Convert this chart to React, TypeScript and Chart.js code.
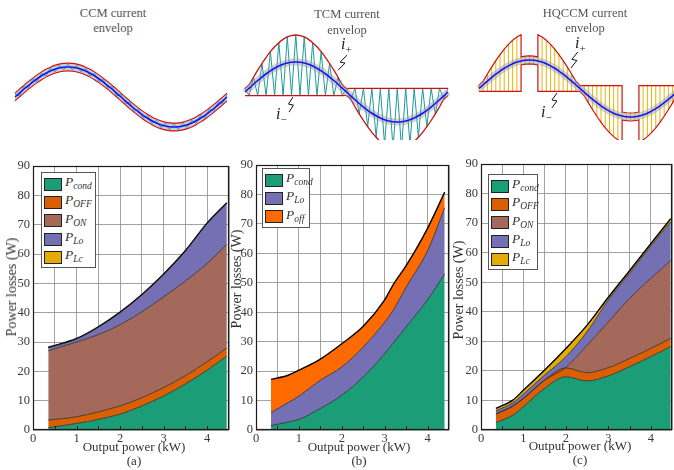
import React, { useEffect, useRef } from 'react';
import { Chart, registerables } from 'chart.js';

Chart.register(...registerables);

const SERIF = '"Liberation Serif", "Times New Roman", "DejaVu Serif", serif';

// ---------------- Loss breakdown data (W), stacked bottom -> top ----------------
// (a) CCM
const X_A = [0.35, 1, 1.5, 2, 2.5, 3, 3.5, 4, 4.45];
const A_COND = [0.8, 2.2, 3.6, 5.4, 8.2, 11.6, 15.7, 20.4, 25.2];
const A_OFF = [2.6, 2.3, 2.6, 2.8, 2.8, 2.9, 2.8, 2.9, 2.8];
const A_ON = [23.6, 25.5, 26.3, 27.7, 29.3, 30.9, 32.3, 33.5, 35.3];
const A_LO = [1.0, 1.0, 2.5, 4.1, 5.7, 7.6, 10.2, 13.6, 14.0];
const A_LC = [0.2, 0.2, 0.2, 0.2, 0.2, 0.2, 0.2, 0.2, 0.2];

// (b) TCM
const X_B = [0.35, 0.75, 1, 1.5, 2, 2.5, 3, 3.2, 3.5, 4, 4.4];
const B_COND = [1.5, 2.7, 3.6, 7.3, 11.8, 18.0, 25.9, 29.5, 35.0, 44.2, 53.0];
const B_LO = [4.4, 6.6, 7.9, 9.6, 9.6, 10.2, 10.7, 11.2, 13.5, 16.7, 22.5];
const B_OFF = [11.3, 9.3, 8.8, 7.2, 7.9, 7.0, 7.6, 8.7, 7.3, 7.6, 5.3];

// (c) HQCCM
const X_C = [0.35, 0.75, 1, 1.5, 2, 2.5, 3, 3.5, 4, 4.47];
const C_COND = [2.5, 5.0, 7.9, 14.1, 18.0, 16.6, 18.3, 21.4, 24.8, 28.2];
const C_OFF = [2.9, 3.1, 2.8, 2.8, 3.0, 2.8, 2.8, 2.8, 2.8, 2.8];
const C_ON = [0, 0, 0, 0, 0.2, 9.3, 15.5, 20.3, 23.7, 26.3];
const C_LO = [1.1, 1.1, 1.5, 1.7, 3.6, 4.6, 7.4, 8.5, 10.9, 13.2];
const C_LC = [0.8, 0.9, 1.3, 1.7, 2.8, 2.2, 0.9, 0.9, 0.8, 1.0];

const Y_TICKS_STEP = 10;
const X_TICKS_STEP = 0.5;

const GREEN = '#1b9e77';
const ORANGE = '#d95f02';
const ORANGE_B = '#ff6a00';
const BROWN = '#a5695b';
const PURPLE = '#7570b3';
const YELLOW = '#e6ab02';

// ---------------- Schematic waveform table (7.5 degree steps) ----------------
const QUARTER_SINE = [0, 0.131, 0.259, 0.383, 0.5, 0.609, 0.707, 0.793, 0.866, 0.924, 0.966, 0.991, 1];
const STEP_DEG = 7.5;
const HALF_SINE = [...QUARTER_SINE, ...QUARTER_SINE.slice(0, -1).reverse()];
const PERIOD_SINE = [...HALF_SINE, ...HALF_SINE.slice(1).map((v) => -v)];
const HUMPS: [number, number][] = [[75, 105], [255, 285]];

const pts = (fn: (v: number, t: number, i: number) => number) =>
  PERIOD_SINE.map((v, i) => ({ x: i * STEP_DEG, y: fn(v, i * STEP_DEG, i) }));

const line = (data: any[], color: string, width: number, tension = 0.3) => ({
  data,
  borderColor: color,
  borderWidth: width,
  tension,
  pointRadius: 0,
  fill: false,
  spanGaps: false,
});

const boltPlugin = (bolts: number[][]) => ({
  id: 'bolts',
  afterDatasetsDraw(chart: any) {
    const { ctx } = chart;
    const { x, y } = chart.scales;
    ctx.save();
    ctx.strokeStyle = '#111';
    ctx.lineWidth = 1;
    for (const b of bolts) {
      const x0 = x.getPixelForValue(b[0]);
      const y0 = y.getPixelForValue(b[1]);
      const x1 = x.getPixelForValue(b[2]);
      const y1 = y.getPixelForValue(b[3]);
      const mx = (x0 + x1) / 2;
      const my = (y0 + y1) / 2;
      ctx.beginPath();
      ctx.moveTo(x0, y0);
      ctx.lineTo(mx - 2.5, my - 0.5);
      ctx.lineTo(mx + 2.5, my + 0.5);
      ctx.lineTo(x1, y1);
      ctx.stroke();
    }
    ctx.restore();
  },
});

const waveOptions = (xmin: number, xmax: number, ymin: number, ymax: number) => ({
  animation: false,
  responsive: false,
  events: [],
  layout: { padding: 0 },
  plugins: {
    legend: { display: false },
    tooltip: { enabled: false },
    filler: { drawTime: 'beforeDatasetsDraw' },
  },
  scales: {
    x: { type: 'linear', display: false, min: xmin, max: xmax },
    y: { type: 'linear', display: false, min: ymin, max: ymax },
  },
});

const ccmConfig = () => ({
  type: 'line',
  data: {
    datasets: [
      line(pts((v) => v), '#1414ff', 1.6),
      line(pts((v, t, i) => v + (i % 2 === 0 ? 0.09 : -0.09)), '#1f9e9e', 0.9, 0),
      { ...line(pts((v) => v + 0.13), '#d01010', 1.1), fill: '+1', backgroundColor: 'rgba(195,195,195,0.85)' },
      line(pts((v) => v - 0.13), '#d01010', 1.1),
    ],
  },
  options: waveOptions(-17, 377, -1.433, 1.567),
});

const tcmUp = (v: number) => Math.max(1.9 * v, 0.12);
const tcmLo = (v: number) => Math.min(1.9 * v, -0.12);

const tcmConfig = () => ({
  type: 'line',
  data: {
    datasets: [
      line(pts((v) => v), '#1414ff', 1.6),
      line(pts((v) => v), 'rgba(150,150,150,0.45)', 7),
      line(pts((v) => tcmUp(v)), '#cc1111', 1.3, 0.2),
      line(pts((v) => tcmLo(v)), '#cc1111', 1.3, 0.2),
      line(pts((v, t, i) => (i % 2 === 0 ? tcmUp(v) : tcmLo(v))), '#1f9999', 1, 0),
    ],
  },
  options: waveOptions(-16, 384.8, -1.6, 2.067),
  plugins: [boltPlugin([[181, 1.23, 165, 0.73], [85, -0.17, 78, -0.67]])],
});

const inHump = (t: number) => HUMPS.some((h) => t > h[0] && t < h[1]);
const hqOuter = (v: number, sign: number) => (sign > 0 ? Math.max(1.95 * v, 0.1) : Math.min(1.95 * v, -0.1));
const hqInner = (v: number, sign: number) => v + sign * 0.14;

const hqEnvelope = (sign: number) => {
  const out: any[] = [];
  PERIOD_SINE.forEach((v, i) => {
    const t = i * STEP_DEG;
    const outer = hqOuter(v, sign);
    const inner = hqInner(v, sign);
    if (HUMPS.some((h) => h[0] === t)) out.push({ x: t, y: outer }, { x: t, y: inner });
    else if (HUMPS.some((h) => h[1] === t)) out.push({ x: t, y: inner }, { x: t, y: outer });
    else out.push({ x: t, y: inHump(t) ? inner : outer });
  });
  return out;
};

const hqVerticals = () => {
  const out: any[] = [];
  PERIOD_SINE.forEach((v, i) => {
    const t = i * STEP_DEG;
    const edge = HUMPS.some((h) => h[0] === t || h[1] === t);
    const inside = inHump(t) || edge;
    const lo = inside ? hqInner(v, -1) : hqOuter(v, -1);
    const hi = inside ? hqInner(v, 1) : hqOuter(v, 1);
    out.push({ x: t, y: lo }, { x: t, y: hi }, { x: t, y: null });
  });
  return out;
};

const hqConfig = () => ({
  type: 'line',
  data: {
    datasets: [
      line(pts((v) => v), '#1414ff', 1.6),
      line(pts((v) => v), 'rgba(150,150,150,0.45)', 7),
      line(hqEnvelope(1), '#cc1111', 1.2, 0),
      line(hqEnvelope(-1), '#cc1111', 1.2, 0),
      line(hqVerticals(), '#e8b400', 1, 0),
    ],
  },
  options: waveOptions(-16, 347.5, -1.807, 2.05),
  plugins: [boltPlugin([[176, 1.28, 164, 0.72], [139, -0.16, 130, -0.68]])],
});

// ---------------- Loss charts ----------------
const framePlugin = {
  id: 'frame',
  afterDatasetsDraw(chart: any) {
    const { ctx, chartArea: a } = chart;
    const xs = chart.scales.x;
    ctx.save();
    ctx.strokeStyle = '#1a1a1a';
    ctx.lineWidth = 1.2;
    ctx.strokeRect(a.left + 0.5, a.top + 0.5, a.right - a.left - 1, a.bottom - a.top - 1);
    ctx.lineWidth = 1;
    for (let v = X_TICKS_STEP; v < 4.5; v += X_TICKS_STEP) {
      const px = Math.round(xs.getPixelForValue(v)) + 0.5;
      ctx.beginPath();
      ctx.moveTo(px, a.bottom);
      ctx.lineTo(px, a.bottom - 4);
      ctx.stroke();
    }
    ctx.restore();
  },
};

type Layer = { data: number[]; color: string };

const lossConfig = (xs: number[], layers: Layer[], yWidth: number, padTop: number, padRight: number) => ({
  type: 'line',
  data: {
    datasets: layers.map((l, i) => ({
      data: xs.map((x, j) => ({ x, y: l.data[j] })),
      backgroundColor: l.color,
      borderColor: i === layers.length - 1 ? '#000' : '#2a2a2a',
      borderWidth: i === layers.length - 1 ? 1.4 : 0.8,
      fill: i === 0 ? 'origin' : '-1',
      pointRadius: 0,
      cubicInterpolationMode: 'monotone',
    })),
  },
  options: {
    animation: false,
    responsive: false,
    events: [],
    layout: { padding: { top: padTop, right: padRight, left: 0, bottom: 0 } },
    plugins: {
      legend: { display: false },
      tooltip: { enabled: false },
      filler: { drawTime: 'beforeDatasetsDraw' },
    },
    scales: {
      x: {
        type: 'linear',
        min: 0,
        max: 4.5,
        ticks: {
          stepSize: X_TICKS_STEP,
          autoSkip: false,
          maxRotation: 0,
          padding: 1,
          color: '#3a3a3a',
          font: { family: SERIF, size: 12.5 },
          callback: (v: number) => (Number.isInteger(v) && v < 4.5 ? String(v) : ''),
        },
        grid: { color: '#8c8c8c', lineWidth: 0.8, drawTicks: false },
        border: { display: false },
        afterFit: (s: any) => {
          s.height = 40;
        },
      },
      y: {
        type: 'linear',
        stacked: true,
        min: 0,
        max: 90,
        ticks: {
          stepSize: Y_TICKS_STEP,
          padding: 3,
          color: '#3a3a3a',
          font: { family: SERIF, size: 12.5 },
        },
        grid: { color: '#8c8c8c', lineWidth: 0.8, drawTicks: false },
        border: { display: false },
        afterFit: (s: any) => {
          s.width = yWidth;
        },
      },
    },
  },
  plugins: [framePlugin],
});

function ChartBox({ left, top, width, height, make }: { left: number; top: number; width: number; height: number; make: () => any }) {
  const ref = useRef<HTMLCanvasElement>(null);
  useEffect(() => {
    const chart = new Chart(ref.current as HTMLCanvasElement, make());
    return () => chart.destroy();
  }, []);
  return <canvas ref={ref} width={width} height={height} style={{ position: 'absolute', left, top, width, height }} />;
}

type LegendEntry = { sub: string; color: string };

function Legend({ left, top, width, entries }: { left: number; top: number; width: number; entries: LegendEntry[] }) {
  return (
    <div
      style={{
        position: 'absolute',
        left,
        top,
        width,
        background: '#fff',
        border: '1px solid #555',
        boxSizing: 'border-box',
        padding: '2px 0 1px 2px',
      }}
    >
      {entries.map((e) => (
        <div key={e.sub} style={{ height: 18.3, display: 'flex', alignItems: 'center' }}>
          <span
            style={{
              width: 18,
              height: 13,
              background: e.color,
              border: '1px solid #222',
              boxSizing: 'border-box',
              flex: 'none',
            }}
          />
          <span style={{ marginLeft: 3, fontStyle: 'italic', fontSize: 13.5, color: '#333', lineHeight: '13px' }}>
            P<sub style={{ fontSize: 9.5, verticalAlign: '-3px' }}>{e.sub}</sub>
          </span>
        </div>
      ))}
    </div>
  );
}

const Txt = ({ x, y, size = 13, children, rotate = false, color = '#333' }: any) => (
  <div
    style={{
      position: 'absolute',
      left: x,
      top: y,
      transform: `translate(-50%, -50%)${rotate ? ' rotate(-90deg)' : ''}`,
      whiteSpace: 'nowrap',
      fontSize: size,
      color,
      lineHeight: 1,
      fontFamily: SERIF,
    }}
  >
    {children}
  </div>
);

const CurLabel = ({ x, y, sub }: { x: number; y: number; sub: string }) => (
  <div style={{ position: 'absolute', left: x, top: y, fontFamily: SERIF, fontStyle: 'italic', fontSize: 16, color: '#222', lineHeight: 1 }}>
    i<sub style={{ fontSize: 11, fontStyle: 'normal' }}>{sub}</sub>
  </div>
);

export default function App() {
  const legendFull: LegendEntry[] = [
    { sub: 'cond', color: GREEN },
    { sub: 'OFF', color: ORANGE },
    { sub: 'ON', color: BROWN },
    { sub: 'Lo', color: PURPLE },
    { sub: 'Lc', color: YELLOW },
  ];
  const legendB: LegendEntry[] = [
    { sub: 'cond', color: GREEN },
    { sub: 'Lo', color: PURPLE },
    { sub: 'off', color: ORANGE_B },
  ];
  return (
    <div
      style={{
        position: 'absolute',
        left: 0,
        top: 0,
        width: 674,
        height: 470,
        overflow: 'hidden',
        background: '#fff',
        fontFamily: SERIF,
      }}
    >
      {/* top schematics */}
      <ChartBox left={5} top={50} width={232} height={90} make={ccmConfig} />
      <ChartBox left={236} top={30} width={226} height={110} make={tcmConfig} />
      <ChartBox left={470} top={30} width={204} height={110} make={hqConfig} />

      <Txt x={113} y={13} size={12.5} color="#555">CCM current</Txt>
      <Txt x={113} y={28} size={12.5} color="#555">envelop</Txt>
      <Txt x={347} y={14} size={12.5} color="#555">TCM current</Txt>
      <Txt x={347} y={30} size={12.5} color="#555">envelop</Txt>
      <Txt x={585} y={13} size={12.5} color="#555">HQCCM current</Txt>
      <Txt x={585} y={28} size={12.5} color="#555">envelop</Txt>

      <CurLabel x={341} y={36} sub="+" />
      <CurLabel x={276} y={106} sub="−" />
      <CurLabel x={575} y={35} sub="+" />
      <CurLabel x={541} y={104} sub="−" />

      {/* loss charts */}
      <ChartBox
        left={0}
        top={150}
        width={234}
        height={320}
        make={() =>
          lossConfig(
            X_A,
            [
              { data: A_COND, color: GREEN },
              { data: A_OFF, color: ORANGE },
              { data: A_ON, color: BROWN },
              { data: A_LO, color: PURPLE },
              { data: A_LC, color: YELLOW },
            ],
            33,
            16,
            5
          )
        }
      />
      <ChartBox
        left={225}
        top={150}
        width={230}
        height={320}
        make={() =>
          lossConfig(
            X_B,
            [
              { data: B_COND, color: GREEN },
              { data: B_LO, color: PURPLE },
              { data: B_OFF, color: ORANGE_B },
            ],
            31,
            15,
            6
          )
        }
      />
      <ChartBox
        left={450}
        top={150}
        width={224}
        height={320}
        make={() =>
          lossConfig(
            X_C,
            [
              { data: C_COND, color: GREEN },
              { data: C_OFF, color: ORANGE },
              { data: C_ON, color: BROWN },
              { data: C_LO, color: PURPLE },
              { data: C_LC, color: YELLOW },
            ],
            31,
            14,
            2
          )
        }
      />

      <Legend left={41} top={172} width={55} entries={legendFull} />
      <Legend left={262} top={168} width={48} entries={legendB} />
      <Legend left={488} top={174} width={50} entries={legendFull} />

      <Txt x={12} y={287} size={14} rotate>Power losses (W)</Txt>
      <Txt x={237} y={279} size={14} rotate>Power losses (W)</Txt>
      <Txt x={459} y={290} size={14} rotate>Power losses (W)</Txt>

      <Txt x={134} y={446} size={13}>Output power (kW)</Txt>
      <Txt x={359} y={446} size={13}>Output power (kW)</Txt>
      <Txt x={580} y={445} size={13}>Output power (kW)</Txt>

      <Txt x={134} y={460} size={13}>(a)</Txt>
      <Txt x={359} y={460} size={13}>(b)</Txt>
      <Txt x={580} y={459} size={13}>(c)</Txt>
    </div>
  );
}
